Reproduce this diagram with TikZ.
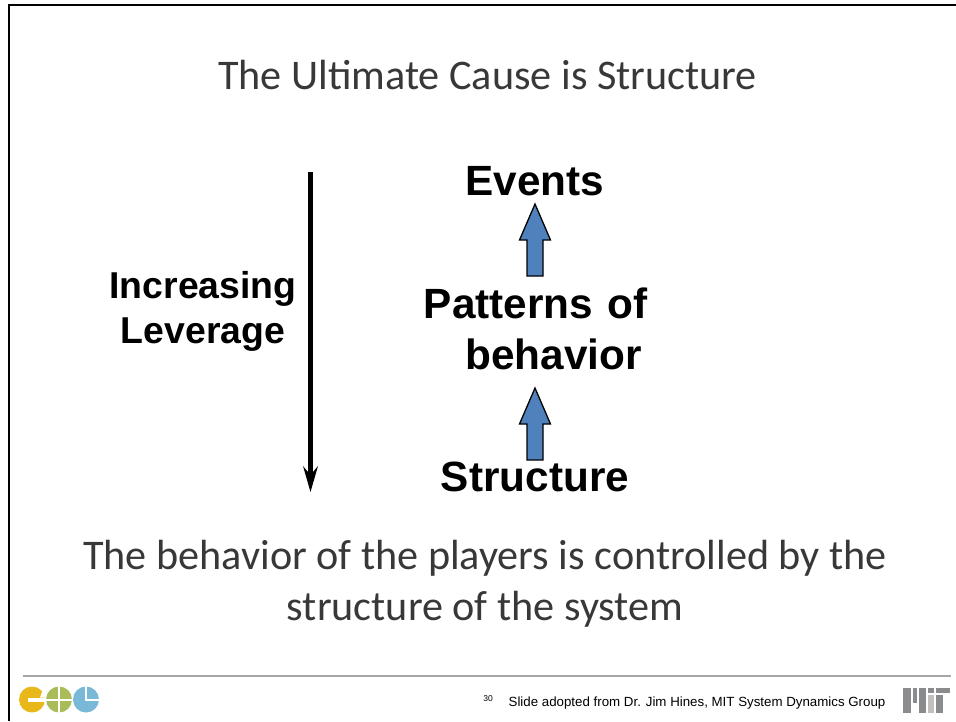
\documentclass[tikz,border=0pt]{standalone}
\usepackage{fontspec}
\setmainfont{Carlito}
\newfontfamily\arial{Liberation Sans}
\definecolor{blk}{HTML}{4F81BD}
\definecolor{cocY}{HTML}{E8B81A}
\definecolor{cocG}{HTML}{AABC57}
\definecolor{cocB}{HTML}{79B8D6}
\definecolor{mitd}{HTML}{8A8B8C}
\definecolor{mitl}{HTML}{C2C0BF}
\tikzset{
  title/.style={font=\fontsize{42.2}{42.2}\selectfont,text=black!78,inner sep=0pt,anchor=center},
  body/.style={font=\fontsize{42.2}{51}\selectfont,text=black!78,inner sep=0pt,align=center},
  big/.style={font=\arial\bfseries\fontsize{42.3}{51}\selectfont,inner sep=0pt},
  small/.style={font=\arial\fontsize{13.3}{13.3}\selectfont,inner sep=0pt},
  blockarrow/.style={draw=black,fill=blk,line width=1.3pt,line join=miter},
}
\begin{document}
\begin{tikzpicture}[x=1pt,y=-1pt]
\useasboundingbox (0,0) rectangle (956,721);
\draw[line width=2.2pt] (9,721) -- (9,5) -- (956,5);
\draw[gray!70,line width=1.5pt] (23,676) -- (951,676);
\node[title] (t) at (487.5,74.5) {The Ultimate Cause is Structure};
\node[big,align=center,font=\arial\bfseries\fontsize{37.4}{45}\selectfont] (lev) at (203,311) {Increasing\\Leverage};
\node[big] (ev) at (535,181) {Events};
\node[big,align=center,text width=300pt] (pat) at (535.5,329) {Patterns of\\\hspace*{36pt}behavior};
\node[big] (st) at (535,477) {Structure};
\coordinate (a1) at (310.5,172);
\coordinate (a2) at (310.5,492);
\draw[line width=4.5pt] (a1) -- (310.5,478);
\fill (a2) -- (303,466) -- (310.5,475) -- (318,466) -- cycle;
\draw[blockarrow] (535,204) -- (550.5,240) -- (543,240) -- (543,276) -- (527,276) -- (527,240) -- (519.5,240) -- cycle;
\draw[blockarrow] (535,388) -- (550.5,424) -- (543,424) -- (543,460) -- (527,460) -- (527,424) -- (519.5,424) -- cycle;
\node[body] (b) at (485,584) {The behavior of the players is controlled by the\\structure of the system};
\node[small] (ft) at (697,703) {Slide adopted from Dr. Jim Hines, MIT System Dynamics Group};
\node[small,font=\arial\fontsize{8.5}{8.5}\selectfont] (n) at (488,699) {30};
% COC logo
\fill[cocY] (32,699.5) circle (13);
\fill[white] (28,697.5) rectangle (46,701.5);
\fill[white] (42,692) -- (46,692) -- (46,697.5) -- (40,697.5) -- cycle;
\fill[cocG] (59,699.5) circle (13);
\fill[white] (58,686) rectangle (60,713);
\fill[white] (45.5,698.5) rectangle (72.5,700.7);
\fill[cocB] (86,699.5) circle (13);
\fill[white] (85,686) rectangle (87,700.5);
\fill[white] (85,698.5) rectangle (99.5,700.8);
% MIT logo
\fill[mitd] (903,688) rectangle (911,713);
\fill[mitd] (913,688) rectangle (917,703);
\fill[mitd] (919,688) rectangle (926,713);
\fill[mitl] (928,695) rectangle (934,713);
\fill[mitd] (928,688) rectangle (934,693);
\fill[mitd] (936,688) rectangle (950,693);
\fill[mitd] (936,695) rectangle (943,713);
\end{tikzpicture}
\end{document}
